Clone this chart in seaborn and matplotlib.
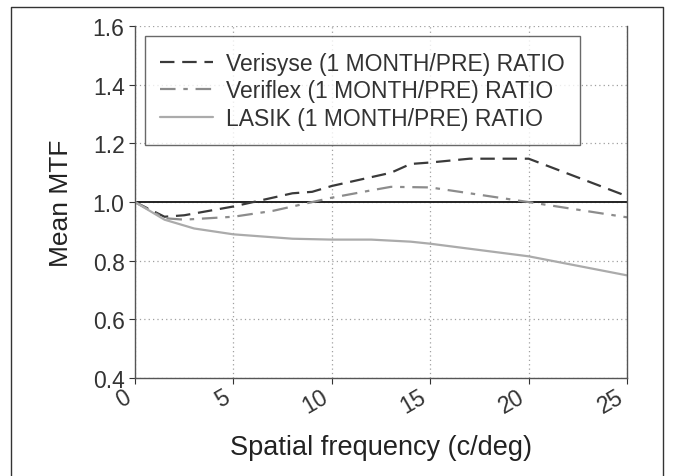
import pandas as pd
import matplotlib
matplotlib.use("Agg")
import matplotlib.pyplot as plt
import seaborn as sns
from matplotlib.lines import Line2D

# ----------------------------------------------------------
# Data
# ----------------------------------------------------------

verisyse_x = [0, 1.5, 2.5, 5, 6, 8, 9, 10, 12, 13, 14, 15, 17, 20, 25]
verisyse_y = [1.0, 0.95, 0.955, 0.985, 1.0, 1.03, 1.035, 1.055, 1.085, 1.10, 1.13, 1.135, 1.148, 1.148, 1.02]

veriflex_x = [0, 1.5, 2.5, 5, 7, 9, 10, 12, 13, 15, 17, 20, 25]
veriflex_y = [1.0, 0.945, 0.94, 0.95, 0.97, 1.0, 1.015, 1.04, 1.052, 1.05, 1.03, 1.0, 0.948]

lasik_x = [0, 1.5, 3, 5, 8, 10, 12, 14, 15, 20, 25]
lasik_y = [1.0, 0.94, 0.91, 0.89, 0.875, 0.872, 0.872, 0.865, 0.858, 0.815, 0.75]

labels = ["Verisyse (1 MONTH/PRE) RATIO",
          "Veriflex (1 MONTH/PRE) RATIO",
          "LASIK (1 MONTH/PRE) RATIO"]
colors = ["#3a3a3a", "#8c8c8c", "#ababab"]
dash_styles = [(6.5, 3.5), (7, 3.5, 2, 3.5), ""]

x_ticks = [0, 5, 10, 15, 20, 25]
y_ticks = [0.4, 0.6, 0.8, 1.0, 1.2, 1.4, 1.6]

frames = []
for name, xs, ys in zip(labels, [verisyse_x, veriflex_x, lasik_x],
                        [verisyse_y, veriflex_y, lasik_y]):
    frames.append(pd.DataFrame({"freq": xs, "mtf": ys, "series": name}))
df = pd.concat(frames, ignore_index=True)

# ----------------------------------------------------------
# Plot
# ----------------------------------------------------------

sns.set_style("white")
plt.rcParams["font.family"] = ["Liberation Sans", "DejaVu Sans"]

fig = plt.figure(figsize=(6.75, 4.77), dpi=100)
ax = fig.add_axes([0.2, 0.2055, 0.729, 0.7375])

sns.lineplot(
    data=df, x="freq", y="mtf",
    hue="series", style="series",
    palette=dict(zip(labels, colors)),
    dashes=dict(zip(labels, dash_styles)),
    linewidth=1.6, sort=False, ax=ax, legend=False
)

ax.axhline(1.0, color="#222222", linewidth=1.4, zorder=1)

ax.set_xlim(0, 25)
ax.set_ylim(0.4, 1.6)
ax.set_xticks(x_ticks)
ax.set_yticks(y_ticks)
ax.set_yticklabels([f"{v:.1f}" for v in y_ticks])
ax.grid(True, linestyle=(0, (1, 2.5)), color="#a0a0a0", linewidth=0.9)

ax.tick_params(axis="both", labelsize=16.5, colors="#333333", direction="out",
               length=4, left=True, bottom=True)
ax.tick_params(axis="x", pad=1)
for lbl in ax.get_xticklabels():
    lbl.set_rotation(30)
    lbl.set_ha("right")

for side in ["left", "bottom", "right"]:
    ax.spines[side].set_color("#555555")
    ax.spines[side].set_linewidth(1.0)
ax.spines["top"].set_visible(False)

ax.set_xlabel("Spatial frequency (c/deg)", fontsize=19.5, color="#222222", labelpad=12)
ax.set_ylabel("Mean MTF", fontsize=19, color="#222222", labelpad=14)

handles = [Line2D([], [], color=c, linewidth=1.6,
                  dashes=d if d else (None, None),
                  linestyle="--" if d else "-")
           for c, d in zip(colors, dash_styles)]
leg = ax.legend(handles, labels, loc="upper left", bbox_to_anchor=(0.02, 0.972),
                fontsize=16.5, frameon=True, fancybox=False, handlelength=2.3,
                handletextpad=0.55, labelspacing=0.2, borderpad=0.68,
                borderaxespad=0, labelcolor="#333333")
leg.get_frame().set_edgecolor("#444444")
leg.get_frame().set_linewidth(1.0)

# outer frame around the figure (open at the bottom)
fig.add_artist(Line2D([0.016, 0.016, 0.982, 0.982], [0.0, 0.983, 0.983, 0.0],
                      transform=fig.transFigure, color="#333333", linewidth=1.0))

plt.savefig("out.png", dpi=100)
plt.close()
